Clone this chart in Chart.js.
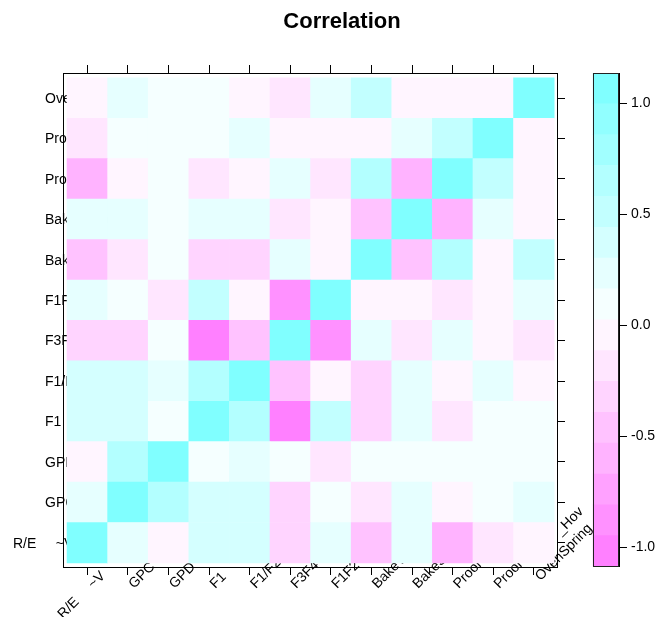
<!DOCTYPE html>
<html lang="en">
<head>
<meta charset="UTF-8">
<title>Correlation</title>
<script src="https://cdn.jsdelivr.net/npm/chart.js@4"></script>
<style>
    body { margin: 0; background: #fff; }
    .wrap { position: relative; width: 659px; height: 617px; }
    .wrap canvas { position: absolute; top: 0; }
    #main { left: 0; }
    #key { left: 585px; }
</style>
</head>
<body>
<div class="wrap">
    <canvas id="main" width="659" height="617"></canvas>
    <canvas id="key" width="74" height="617"></canvas>
</div>
<script>
// variables, left to right on x and bottom to top on y
const varNames = ['R/E     ~V', 'GPC', 'GPD', 'F1', 'F1/F2', 'F3F4', 'F1F2', 'BakeVol', 'BakeScore', 'ProofTime', 'ProofVol', 'OvenSpring'];
const ovenTopLine = '            _Hov';

// correlation rows (same order as varNames)
const rRE    = [1, 0.23, -0.05, 0.37, 0.37, -0.32, 0.23, -0.46, 0.23, -0.60, -0.18, -0.05];
const rGPC   = [0.23, 1, 0.68, 0.37, 0.37, -0.32, 0.09, -0.18, 0.23, -0.05, 0.09, 0.23];
const rGPD   = [-0.05, 0.68, 1, 0.09, 0.23, 0.09, -0.18, 0.09, 0.09, 0.09, 0.09, 0.09];
const rF1    = [0.37, 0.37, 0.09, 1, 0.66, -0.98, 0.50, -0.32, 0.23, -0.18, 0.09, 0.09];
const rF1F2r = [0.37, 0.37, 0.23, 0.66, 1, -0.46, -0.05, -0.32, 0.23, -0.05, 0.23, -0.05];
const rF3F4  = [-0.32, -0.32, 0.09, -0.98, -0.46, 1, -0.88, 0.23, -0.18, 0.23, -0.05, -0.18];
const rF1F2  = [0.23, 0.09, -0.18, 0.50, -0.05, -0.88, 1, -0.05, -0.05, -0.18, -0.05, 0.23];
const rBake1 = [-0.46, -0.18, 0.09, -0.32, -0.32, 0.23, -0.05, 1, -0.46, 0.62, -0.05, 0.50];
const rBake2 = [0.23, 0.23, 0.09, 0.23, 0.23, -0.18, -0.05, -0.46, 1, -0.55, 0.23, -0.05];
const rProof1 = [-0.60, -0.05, 0.09, -0.18, -0.05, 0.23, -0.18, 0.62, -0.55, 1, 0.45, -0.05];
const rProof2 = [-0.18, 0.09, 0.09, 0.09, 0.23, -0.05, -0.05, -0.05, 0.23, 0.45, 1, -0.05];
const rOven  = [-0.05, 0.23, 0.09, 0.09, -0.05, -0.18, 0.23, 0.50, -0.05, -0.05, -0.05, 1];
const corr = [rRE, rGPC, rGPD, rF1, rF1F2r, rF3F4, rF1F2, rBake1, rBake2, rProof1, rProof2, rOven];

// colour key breaks (16 bands) and ticks
const keyBreaks = [-1.086, -0.947, -0.808, -0.669, -0.530, -0.391, -0.252, -0.113, 0.026,
                   0.165, 0.304, 0.443, 0.582, 0.721, 0.860, 0.999, 1.138];
const keyTicks = [-1, -0.5, 0, 0.5, 1];

Chart.defaults.font.family = '"Liberation Sans", Arial, sans-serif';
Chart.defaults.font.size = 14;
Chart.defaults.color = '#000';

// magenta -> white -> cyan, picked like lattice does from 100 colours
function bandColor(k) {
    const i = Math.round(1 + k * 99 / (keyBreaks.length - 2));
    const s = i <= 50 ? (51 - i) / 100 : (i - 50) / 100;
    const c = Math.round(255 * (1 - s));
    return i <= 50 ? `rgb(255,${c},255)` : `rgb(${c},255,255)`;
}
function tileColor(v) {
    let k = keyBreaks.findIndex((b, i) => i < keyBreaks.length - 1 && v >= b && v < keyBreaks[i + 1]);
    if (k < 0) k = v < 0 ? 0 : keyBreaks.length - 2;
    return bandColor(k);
}

const colTicks = s => { s.ticks = varNames.map((_, i) => ({ value: i + 1 })); };
const rowTicks = s => { s.ticks = varNames.map((_, i) => ({ value: i + 0.5 })); };
const xMin = 0.40, xMax = 12.57, yMin = -0.10, yMax = 12.12;
const tickGrid = { drawOnChartArea: false, tickLength: 8, color: '#000', offset: false };

// axis labels drawn before the tiles, so the tiles hide what runs into the panel
const axisText = {
    id: 'axisText',
    beforeDatasetsDraw(chart) {
        const { ctx, scales: { x, y } } = chart;
        ctx.save();
        ctx.font = '14px "Liberation Sans", Arial, sans-serif';
        ctx.fillStyle = '#000';
        ctx.textAlign = 'left';

        ctx.textBaseline = 'middle';
        varNames.forEach((name, i) => {
            ctx.fillText(name, i === 0 ? 13 : 45, y.getPixelForValue(i + 0.5) + 1);
        });

        ctx.textBaseline = 'alphabetic';
        varNames.forEach((name, i) => {
            let bx = x.getPixelForValue(i + 1) + 6, by = 589;
            if (i === 0) {
                const w = ctx.measureText('R/E     ').width * Math.SQRT1_2;
                bx -= w; by += w;
            }
            ctx.save();
            ctx.translate(bx, by);
            ctx.rotate(-Math.PI / 4);
            if (i === varNames.length - 1) {
                ctx.translate(6, -5);
                ctx.fillText(ovenTopLine, 0, -18);
            }
            ctx.fillText(name, 0, 0);
            ctx.restore();
        });
        ctx.restore();
    }
};

new Chart(document.getElementById('main'), {
    type: 'bar',
    data: {
        datasets: corr.map(row => ({
            data: row.map((_, c) => ({ x: c + 1, y: 1 })),
            backgroundColor: row.map(tileColor),
            borderWidth: 0,
            barPercentage: 1,
            categoryPercentage: 1
        }))
    },
    options: {
        responsive: false,
        animation: false,
        layout: { padding: { left: 25, right: 0, top: 0, bottom: 0 } },
        plugins: {
            legend: { display: false },
            tooltip: { enabled: false },
            title: {
                display: true,
                text: 'Correlation',
                font: { size: 22, weight: 'bold' },
                padding: { top: 9, bottom: 0 }
            }
        },
        scales: {
            x: {
                type: 'linear', position: 'bottom', stacked: true, offset: false, min: xMin, max: xMax,
                afterBuildTicks: colTicks, afterFit: s => { s.height = 50; },
                ticks: { display: false }, grid: tickGrid, border: { color: '#000' }
            },
            xt: {
                type: 'linear', position: 'top', offset: false, min: xMin, max: xMax,
                afterBuildTicks: colTicks, afterFit: s => { s.height = 73 - 9 - 26.4; },
                ticks: { display: false }, grid: tickGrid, border: { color: '#000' }
            },
            y: {
                type: 'linear', position: 'left', stacked: true, offset: false, min: yMin, max: yMax,
                afterFit: s => { s.width = 38; },
                ticks: { display: false }, grid: { display: false }, border: { color: '#000' }
            },
            yr: {
                type: 'linear', position: 'right', offset: false, min: yMin, max: yMax,
                afterBuildTicks: rowTicks, afterFit: s => { s.width = 102; },
                ticks: { display: false }, grid: tickGrid, border: { color: '#000' }
            }
        }
    },
    plugins: [axisText]
});

// frame round the colour key
const keyFrame = {
    id: 'keyFrame',
    afterDatasetsDraw(chart) {
        const { ctx, chartArea: a } = chart;
        ctx.save();
        ctx.strokeStyle = '#222';
        ctx.lineWidth = 1;
        ctx.strokeRect(Math.round(a.left) + 0.5, Math.round(a.top) + 0.5,
                       Math.round(a.width) - 1, Math.round(a.height) - 1);
        ctx.restore();
    }
};

new Chart(document.getElementById('key'), {
    type: 'bar',
    data: {
        labels: ['key'],
        datasets: keyBreaks.slice(0, -1).map((lo, k) => ({
            data: [[lo, keyBreaks[k + 1]]],
            backgroundColor: bandColor(k),
            borderWidth: 0,
            barPercentage: 1,
            categoryPercentage: 1
        }))
    },
    options: {
        responsive: false,
        animation: false,
        layout: { padding: { left: 7.7, right: 0, top: 73, bottom: 50.5 } },
        plugins: { legend: { display: false }, tooltip: { enabled: false } },
        scales: {
            x: { stacked: true, display: false },
            y: {
                position: 'right', min: keyBreaks[0], max: keyBreaks[keyBreaks.length - 1],
                afterBuildTicks: s => { s.ticks = keyTicks.map(v => ({ value: v })); },
                afterFit: s => { s.width = 40; },
                ticks: { padding: 4, callback: v => v.toFixed(1) },
                grid: tickGrid,
                border: { color: '#000' }
            }
        }
    },
    plugins: [keyFrame]
});
</script>
</body>
</html>
